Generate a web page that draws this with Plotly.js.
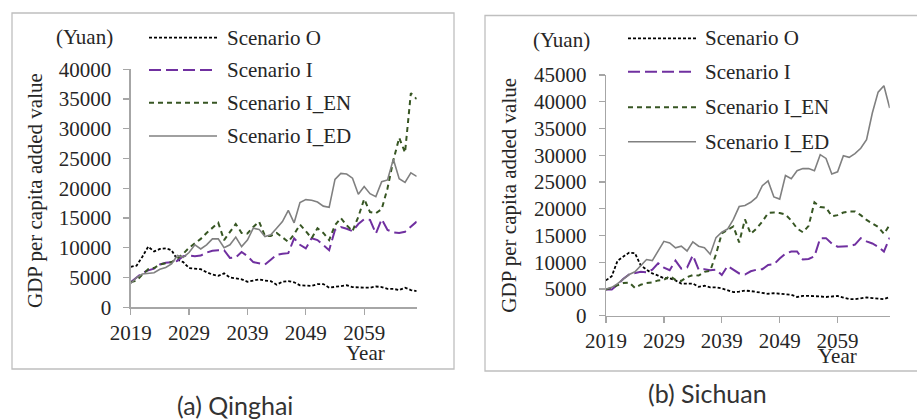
<!DOCTYPE html>
<html>
<head>
<meta charset="utf-8">
<script src="https://cdn.plot.ly/plotly-3.0.1.min.js"></script>
<style>
  html, body { margin: 0; padding: 0; background: #ffffff; }
  #chart { width: 917px; height: 420px; }
</style>
</head>
<body>
<div id="chart"></div>
<script>
// Years on the horizontal axis
const years = [2019,2020,2021,2022,2023,2024,2025,2026,2027,2028,
               2029,2030,2031,2032,2033,2034,2035,2036,2037,2038,
               2039,2040,2041,2042,2043,2044,2045,2046,2047,2048,
               2049,2050,2051,2052,2053,2054,2055,2056,2057,2058,
               2059,2060,2061,2062,2063,2064,2065,2066,2067,2068];
const yearTicks = [2019, 2029, 2039, 2049, 2059];
const seriesNames = ["Scenario O", "Scenario I", "Scenario I_EN", "Scenario I_ED"];

// (a) Qinghai, GDP per capita added value (Yuan)
const qinghaiO = [6800,7000,8500,10200,9400,9800,9900,9600,8000,7600,
                  6600,6500,6400,5900,5500,5300,5700,5000,4900,4700,
                  4300,4500,4700,4500,4400,3800,4300,4400,4200,3700,
                  3600,3600,3900,3900,3300,3400,3600,3700,3400,3300,
                  3300,3300,3500,3400,3100,3100,2900,3300,2900,2700];
const qinghaiI = [4200,5000,5800,6200,6500,7200,7500,7600,7800,8600,
                  8700,8600,8700,9200,9500,9600,9600,8300,8400,9300,
                  8600,7600,7400,7200,8000,8800,9000,9100,11600,10500,
                  9900,11600,11300,10500,9600,13000,13500,13200,12800,14000,
                  14800,14700,12400,14800,13000,12600,12500,12700,13500,14400];
const qinghaiEN = [4200,4500,5500,6400,6600,7200,7400,7600,8200,9000,
                   10000,10700,11500,12500,13400,14200,11300,12600,14000,12500,
                   12400,13500,14400,12000,12000,12500,11700,11000,12300,13900,
                   12800,11600,13300,12500,11300,13800,15000,13800,12800,15200,
                   18200,16000,15800,16500,20000,24700,28500,26000,36000,35000];
const qinghaiED = [4000,5000,5600,5700,5800,6400,6700,7300,8700,8400,
                   9200,10500,9800,10500,11500,11500,10000,10500,11800,10200,
                   11300,13300,13100,11900,12200,13300,14400,16300,14200,17600,
                   18100,18000,17700,17000,16800,21500,22500,22400,21700,19000,
                   20300,19100,18600,21100,21400,24900,21600,21000,22600,22000];

// (b) Sichuan, GDP per capita added value (Yuan)
const sichuanO = [6600,7400,10300,11100,11800,11700,9400,8600,7900,7500,
                  7000,7000,6600,6000,6000,6000,5400,5600,5300,5300,
                  5100,4800,4400,4500,4700,4600,4400,4200,4100,4200,
                  4100,4000,3900,3500,3700,3700,3700,3600,3500,3600,
                  3700,3400,3100,3100,3300,3400,3300,3200,3100,3500];
const sichuanI = [4900,4900,5800,6900,7700,8000,8200,8100,8600,9800,
                  9000,8500,10300,8800,9000,11300,8600,8700,8500,8600,
                  7600,9300,8600,7900,7700,8300,8600,8700,9500,9600,
                  10700,11600,12000,12000,10500,10600,11100,14500,14500,13500,
                  12900,12900,13000,13300,14500,13900,13500,12900,12000,14600];
const sichuanEN = [4900,5200,5700,6100,6200,5200,5800,6100,6200,6600,
                   6700,7400,6700,6500,7200,7600,7500,8200,8400,11500,
                   15400,16000,16700,13700,18000,15300,16300,17600,19200,19300,
                   19200,18900,17800,16300,15600,16800,21200,20300,20200,18600,
                   18800,19300,19500,19500,18800,17900,17300,16600,15300,17000];
const sichuanED = [5000,5300,6000,6900,7700,8200,9400,10500,10300,12000,
                   13900,13600,12700,13000,12100,13800,13000,12700,11500,14600,
                   15600,16200,18000,20400,20600,21200,22100,24300,25200,22200,
                   21800,26200,25600,27100,27500,27500,27100,30100,29400,26500,
                   26900,29900,29600,30300,31300,32900,37900,41800,43000,38800];

// Line styles per scenario
const styles = [
  { color: "#000000", width: 1.8, dash: "3px,2px" },
  { color: "#7030A0", width: 2.0, dash: "12px,5px" },
  { color: "#375623", width: 2.0, dash: "5px,4px" },
  { color: "#808080", width: 1.6, dash: "solid" }
];

const W = 917, H = 420;
const px = x => x / W;
const py = y => 1 - y / H;

const serif = "Liberation Serif";
const textColor = "#262626";
const axisGrey = "#a6a6a6";
const serifFont = { family: serif, size: 21, color: textColor };

function makeTraces(data, xa, ya) {
  return data.map((vals, i) => ({
    type: "scatter",
    mode: "lines",
    name: seriesNames[i],
    x: years,
    y: vals,
    xaxis: xa,
    yaxis: ya,
    line: Object.assign({}, styles[i]),
    hoverinfo: "x+y+name"
  }));
}

const traces = []
  .concat(makeTraces([qinghaiO, qinghaiI, qinghaiEN, qinghaiED], "x", "y"))
  .concat(makeTraces([sichuanO, sichuanI, sichuanEN, sichuanED], "x2", "y2"));

function xAxis(x0, x1, anchor) {
  return {
    domain: [px(x0), px(x1)],
    range: [2019, 2068],
    anchor: anchor,
    tickvals: yearTicks,
    tickformat: "d",
    ticks: "outside",
    ticklen: 6,
    tickwidth: 1.3,
    tickcolor: axisGrey,
    showline: true,
    linecolor: axisGrey,
    linewidth: 1.3,
    showgrid: false,
    zeroline: false,
    tickfont: Object.assign({}, serifFont),
    fixedrange: true
  };
}
function yAxis(y0, y1, maxV, anchor) {
  return {
    domain: [py(y0), py(y1)],
    range: [0, maxV],
    anchor: anchor,
    dtick: 5000,
    tickformat: "d",
    ticks: "outside",
    ticklen: 6,
    tickwidth: 1.3,
    tickcolor: axisGrey,
    ticklabelstandoff: 8,
    showline: true,
    linecolor: axisGrey,
    linewidth: 1.3,
    showgrid: false,
    zeroline: false,
    tickfont: Object.assign({}, serifFont),
    fixedrange: true
  };
}

// Panel geometry (pixels)
const panels = [
  { frame: [12, 13, 454, 369], legendX: [149, 217], legendText: 225, legendY: [37.7, 70, 102.7, 136],
    yuan: [84.5, 37], ytitle: [35, 191], year: [365, 353], caption: ["(a) Qinghai", 235, 405] },
  { frame: [485, 15.5, 930, 371], legendX: [628, 696], legendText: 703, legendY: [38.3, 71.7, 107.3, 141.7],
    yuan: [561.5, 40], ytitle: [508.7, 195], year: [837, 356], caption: ["(b) Sichuan", 707, 393] }
];

const shapes = [];
const annotations = [];
panels.forEach(p => {
  shapes.push({
    type: "rect", xref: "paper", yref: "paper", layer: "below",
    x0: px(p.frame[0]), x1: px(p.frame[2]), y0: py(p.frame[3]), y1: py(p.frame[1]),
    line: { color: "#bfbfbf", width: 1.3 }, fillcolor: "rgba(0,0,0,0)"
  });
  p.legendY.forEach((ly, i) => {
    shapes.push({
      type: "line", xref: "paper", yref: "paper",
      x0: px(p.legendX[0]), x1: px(p.legendX[1]), y0: py(ly), y1: py(ly),
      line: Object.assign({}, styles[i])
    });
    annotations.push({
      xref: "paper", yref: "paper", x: px(p.legendText), y: py(ly),
      xanchor: "left", yanchor: "middle", showarrow: false,
      text: seriesNames[i], font: Object.assign({}, serifFont)
    });
  });
  annotations.push({
    xref: "paper", yref: "paper", x: px(p.yuan[0]), y: py(p.yuan[1]),
    xanchor: "center", yanchor: "middle", showarrow: false,
    text: "(Yuan)", font: Object.assign({}, serifFont)
  });
  annotations.push({
    xref: "paper", yref: "paper", x: px(p.ytitle[0]), y: py(p.ytitle[1]),
    xanchor: "center", yanchor: "middle", showarrow: false, textangle: -90,
    text: "GDP per capita added value", font: Object.assign({}, serifFont)
  });
  annotations.push({
    xref: "paper", yref: "paper", x: px(p.year[0]), y: py(p.year[1]),
    xanchor: "center", yanchor: "middle", showarrow: false,
    text: "Year", font: Object.assign({}, serifFont)
  });
  annotations.push({
    xref: "paper", yref: "paper", x: px(p.caption[1]), y: py(p.caption[2]),
    xanchor: "center", yanchor: "middle", showarrow: false,
    text: p.caption[0], font: { family: "Lato", size: 25, color: "#333333" }
  });
});

const layout = {
  width: W, height: H,
  margin: { l: 0, r: 0, t: 0, b: 0, pad: 0 },
  font: Object.assign({}, serifFont),
  paper_bgcolor: "#ffffff",
  plot_bgcolor: "rgba(0,0,0,0)",
  showlegend: false,
  xaxis: xAxis(130.7, 416.7, "y"),
  yaxis: yAxis(307.3, 69.3, 40000, "x"),
  xaxis2: xAxis(606, 889.7, "y2"),
  yaxis2: yAxis(315.7, 75, 45000, "x2"),
  shapes: shapes,
  annotations: annotations
};

Plotly.newPlot("chart", traces, layout, { displayModeBar: false, staticPlot: true });
</script>
</body>
</html>
